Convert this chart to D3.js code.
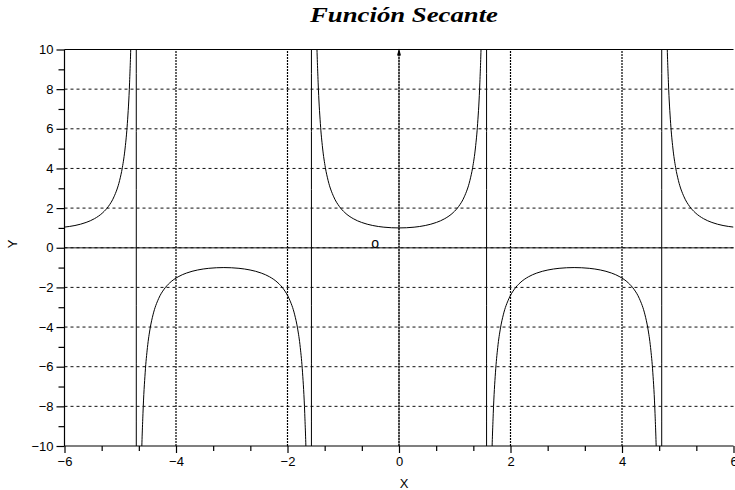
<!DOCTYPE html>
<html><head><meta charset="utf-8">
<script src="https://cdn.jsdelivr.net/npm/d3@7"></script>
<style>body{margin:0;background:#fff}svg{display:block}</style>
</head><body>
<svg id="c" width="735" height="490"></svg>
<script>
const xs = [-6, -5.8124, -5.6124, -5.4624, -5.3124, -5.2124, -5.1124, -5.0124, -4.9624, -4.9124, -4.8724, -4.8324, -4.8024, -4.7724, -4.7424, -4.7164,
  -4.7084, -4.6824, -4.6524, -4.6224, -4.5924, -4.5524, -4.5124, -4.4624, -4.4124, -4.3124, -4.2124, -4.1124, -3.9624, -3.8124, -3.6124, -3.4124, -3.1416,
  -2.8708, -2.6708, -2.4708, -2.3208, -2.1708, -2.0708, -1.9708, -1.8708, -1.8208, -1.7708, -1.7308, -1.6908, -1.6608, -1.6308, -1.6008, -1.5748,
  -1.5668, -1.5408, -1.5108, -1.4808, -1.4508, -1.4108, -1.3708, -1.3208, -1.2708, -1.1708, -1.0708, -0.9708, -0.8208, -0.6708, -0.4708, -0.2708, 0,
  0.2708, 0.4708, 0.6708, 0.8208, 0.9708, 1.0708, 1.1708, 1.2708, 1.3208, 1.3708, 1.4108, 1.4508, 1.4808, 1.5108, 1.5408, 1.5668,
  1.5748, 1.6008, 1.6308, 1.6608, 1.6908, 1.7308, 1.7708, 1.8208, 1.8708, 1.9708, 2.0708, 2.1708, 2.3208, 2.4708, 2.6708, 2.8708, 3.1416,
  3.4124, 3.6124, 3.8124, 3.9624, 4.1124, 4.2124, 4.3124, 4.4124, 4.4624, 4.5124, 4.5524, 4.5924, 4.6224, 4.6524, 4.6824, 4.7084,
  4.7164, 4.7424, 4.7724, 4.8024, 4.8324, 4.8724, 4.9124, 4.9624, 5.0124, 5.1124, 5.2124, 5.3124, 5.4624, 5.6124, 5.8124, 6];
const ys = [1.0415, 1.122, 1.277, 1.467, 1.771, 2.086, 2.568, 3.384, 4.042, 5.033, 6.277, 8.353, 11.13, 16.68, 33.34, 250,
  -250, -33.34, -16.68, -11.13, -8.353, -6.277, -5.033, -4.042, -3.384, -2.568, -2.086, -1.771, -1.467, -1.277, -1.122, -1.038, -1,
  -1.038, -1.122, -1.277, -1.467, -1.771, -2.086, -2.568, -3.384, -4.042, -5.033, -6.277, -8.353, -11.13, -16.68, -33.34, -250,
  250, 33.34, 16.68, 11.13, 8.353, 6.277, 5.033, 4.042, 3.384, 2.568, 2.086, 1.771, 1.467, 1.277, 1.122, 1.038, 1,
  1.038, 1.122, 1.277, 1.467, 1.771, 2.086, 2.568, 3.384, 4.042, 5.033, 6.277, 8.353, 11.13, 16.68, 33.34, 250,
  -250, -33.34, -16.68, -11.13, -8.353, -6.277, -5.033, -4.042, -3.384, -2.568, -2.086, -1.771, -1.467, -1.277, -1.122, -1.038, -1,
  -1.038, -1.122, -1.277, -1.467, -1.771, -2.086, -2.568, -3.384, -4.042, -5.033, -6.277, -8.353, -11.13, -16.68, -33.34, -250,
  250, 33.34, 16.68, 11.13, 8.353, 6.277, 5.033, 4.042, 3.384, 2.568, 2.086, 1.771, 1.467, 1.277, 1.122, 1.0415];
const xTicks = [-6, -4, -2, 0, 2, 4, 6];
const xMinor = [-5.3333, -4.6667, -3.3333, -2.6667, -1.3333, -0.6667, 0.6667, 1.3333, 2.6667, 3.3333, 4.6667, 5.3333];
const yTicks = [-10, -8, -6, -4, -2, 0, 2, 4, 6, 8, 10];
const yMinor = [-9, -7, -5, -3, -1, 1, 3, 5, 7, 9];
const title = "Función Secante";
const xLabel = "X", yLabel = "Y";
const originMark = {x: -0.43, y: 0.15, text: "o"};

const svg = d3.select("#c");
const L = 64.5, R = 733.5, T = 49.5, B = 446;
const x = d3.scaleLinear().domain([-6, 6]).range([L, R]);
const y = d3.scaleLinear().domain([-10, 10]).range([B, T]);
const fmt = v => (v < 0 ? "\u2212" + Math.abs(v) : String(v));
const sans = "'Liberation Sans', Arial, Helvetica, sans-serif";

svg.append("defs").append("clipPath").attr("id", "clip")
  .append("rect").attr("x", L).attr("y", T).attr("width", R - L).attr("height", B - T);

// axis lines through origin (solid gray)
svg.append("line").attr("x1", L).attr("x2", R).attr("y1", y(0)).attr("y2", y(0))
  .attr("stroke", "#666").attr("stroke-width", 1.3);
svg.append("line").attr("x1", x(0)).attr("x2", x(0)).attr("y1", B).attr("y2", T)
  .attr("stroke", "#777").attr("stroke-width", 1.2);

// grid
const g = svg.append("g");
g.selectAll("line.h").data(yTicks.filter(v => v > -10 && v < 10)).join("line")
  .attr("x1", L).attr("x2", R).attr("y1", d => y(d)).attr("y2", d => y(d))
  .attr("stroke", "#111").attr("stroke-width", 1).attr("stroke-dasharray", "3,3");
g.selectAll("line.v").data(xTicks.filter(v => v > -6 && v < 6)).join("line")
  .attr("x1", d => x(d)).attr("x2", d => x(d)).attr("y1", B).attr("y2", T)
  .attr("stroke", "#000").attr("stroke-width", 1.2).attr("stroke-dasharray", "2,1");

// arrow on x=0 axis
svg.append("path")
  .attr("d", `M${x(0) - 2},${T + 6} L${x(0)},${T - 1} L${x(0) + 2},${T + 6} Z`)
  .attr("fill", "#000");

// curve
const line = d3.line().x((d, i) => x(xs[i])).y(d => y(d)).curve(d3.curveMonotoneX);
svg.append("path").attr("clip-path", "url(#clip)")
  .attr("d", line(ys)).attr("fill", "none").attr("stroke", "#000").attr("stroke-width", 1);

// frame lines: top, left, bottom
svg.append("line").attr("x1", L).attr("x2", R).attr("y1", T).attr("y2", T).attr("stroke", "#000").attr("stroke-width", 1.2);
svg.append("line").attr("x1", L).attr("x2", L).attr("y1", T).attr("y2", B).attr("stroke", "#000").attr("stroke-width", 1.2);
svg.append("line").attr("x1", L).attr("x2", R).attr("y1", B).attr("y2", B).attr("stroke", "#000").attr("stroke-width", 1.2);

// x axis ticks
const xa = svg.append("g").attr("transform", `translate(0,${B})`)
  .call(d3.axisBottom(x).tickValues(xTicks).tickFormat(fmt).tickSize(7).tickPadding(4));
xa.select(".domain").remove();
xa.selectAll("text").attr("font-family", sans).attr("font-size", 13).attr("fill", "#000");
xa.selectAll("line").attr("stroke-width", 1.2);
const xm = svg.append("g").attr("transform", `translate(0,${B})`)
  .call(d3.axisBottom(x).tickValues(xMinor).tickFormat("").tickSize(5));
xm.select(".domain").remove();
xm.selectAll("line").attr("stroke-width", 1.2);

// y axis ticks
const ya = svg.append("g").attr("transform", `translate(${L},0)`)
  .call(d3.axisLeft(y).tickValues(yTicks).tickFormat(fmt).tickSize(8).tickPadding(3));
ya.select(".domain").remove();
ya.selectAll("text").attr("font-family", sans).attr("font-size", 13).attr("fill", "#000");
ya.selectAll("line").attr("stroke-width", 1.2);
const ym = svg.append("g").attr("transform", `translate(${L},0)`)
  .call(d3.axisLeft(y).tickValues(yMinor).tickFormat("").tickSize(6));
ym.select(".domain").remove();
ym.selectAll("line").attr("stroke-width", 1.2);

// origin "o"
svg.append("text").attr("x", x(originMark.x)).attr("y", y(originMark.y) + 3)
  .attr("text-anchor", "middle").attr("font-family", sans).attr("font-size", 14).text(originMark.text);

// labels
svg.append("text").attr("x", 404).attr("y", 488).attr("text-anchor", "middle")
  .attr("font-family", sans).attr("font-size", 13).text(xLabel);
svg.append("text").attr("transform", "translate(17,244) rotate(-90)").attr("text-anchor", "middle")
  .attr("font-family", sans).attr("font-size", 13).text(yLabel);
svg.append("text").attr("x", 404).attr("y", 22).attr("text-anchor", "middle")
  .attr("font-family", "'Liberation Serif', 'Times New Roman', serif").attr("font-weight", "bold")
  .attr("font-style", "italic").attr("font-size", 22)
  .attr("textLength", 188).attr("lengthAdjust", "spacingAndGlyphs").text(title);
</script>
</body></html>
